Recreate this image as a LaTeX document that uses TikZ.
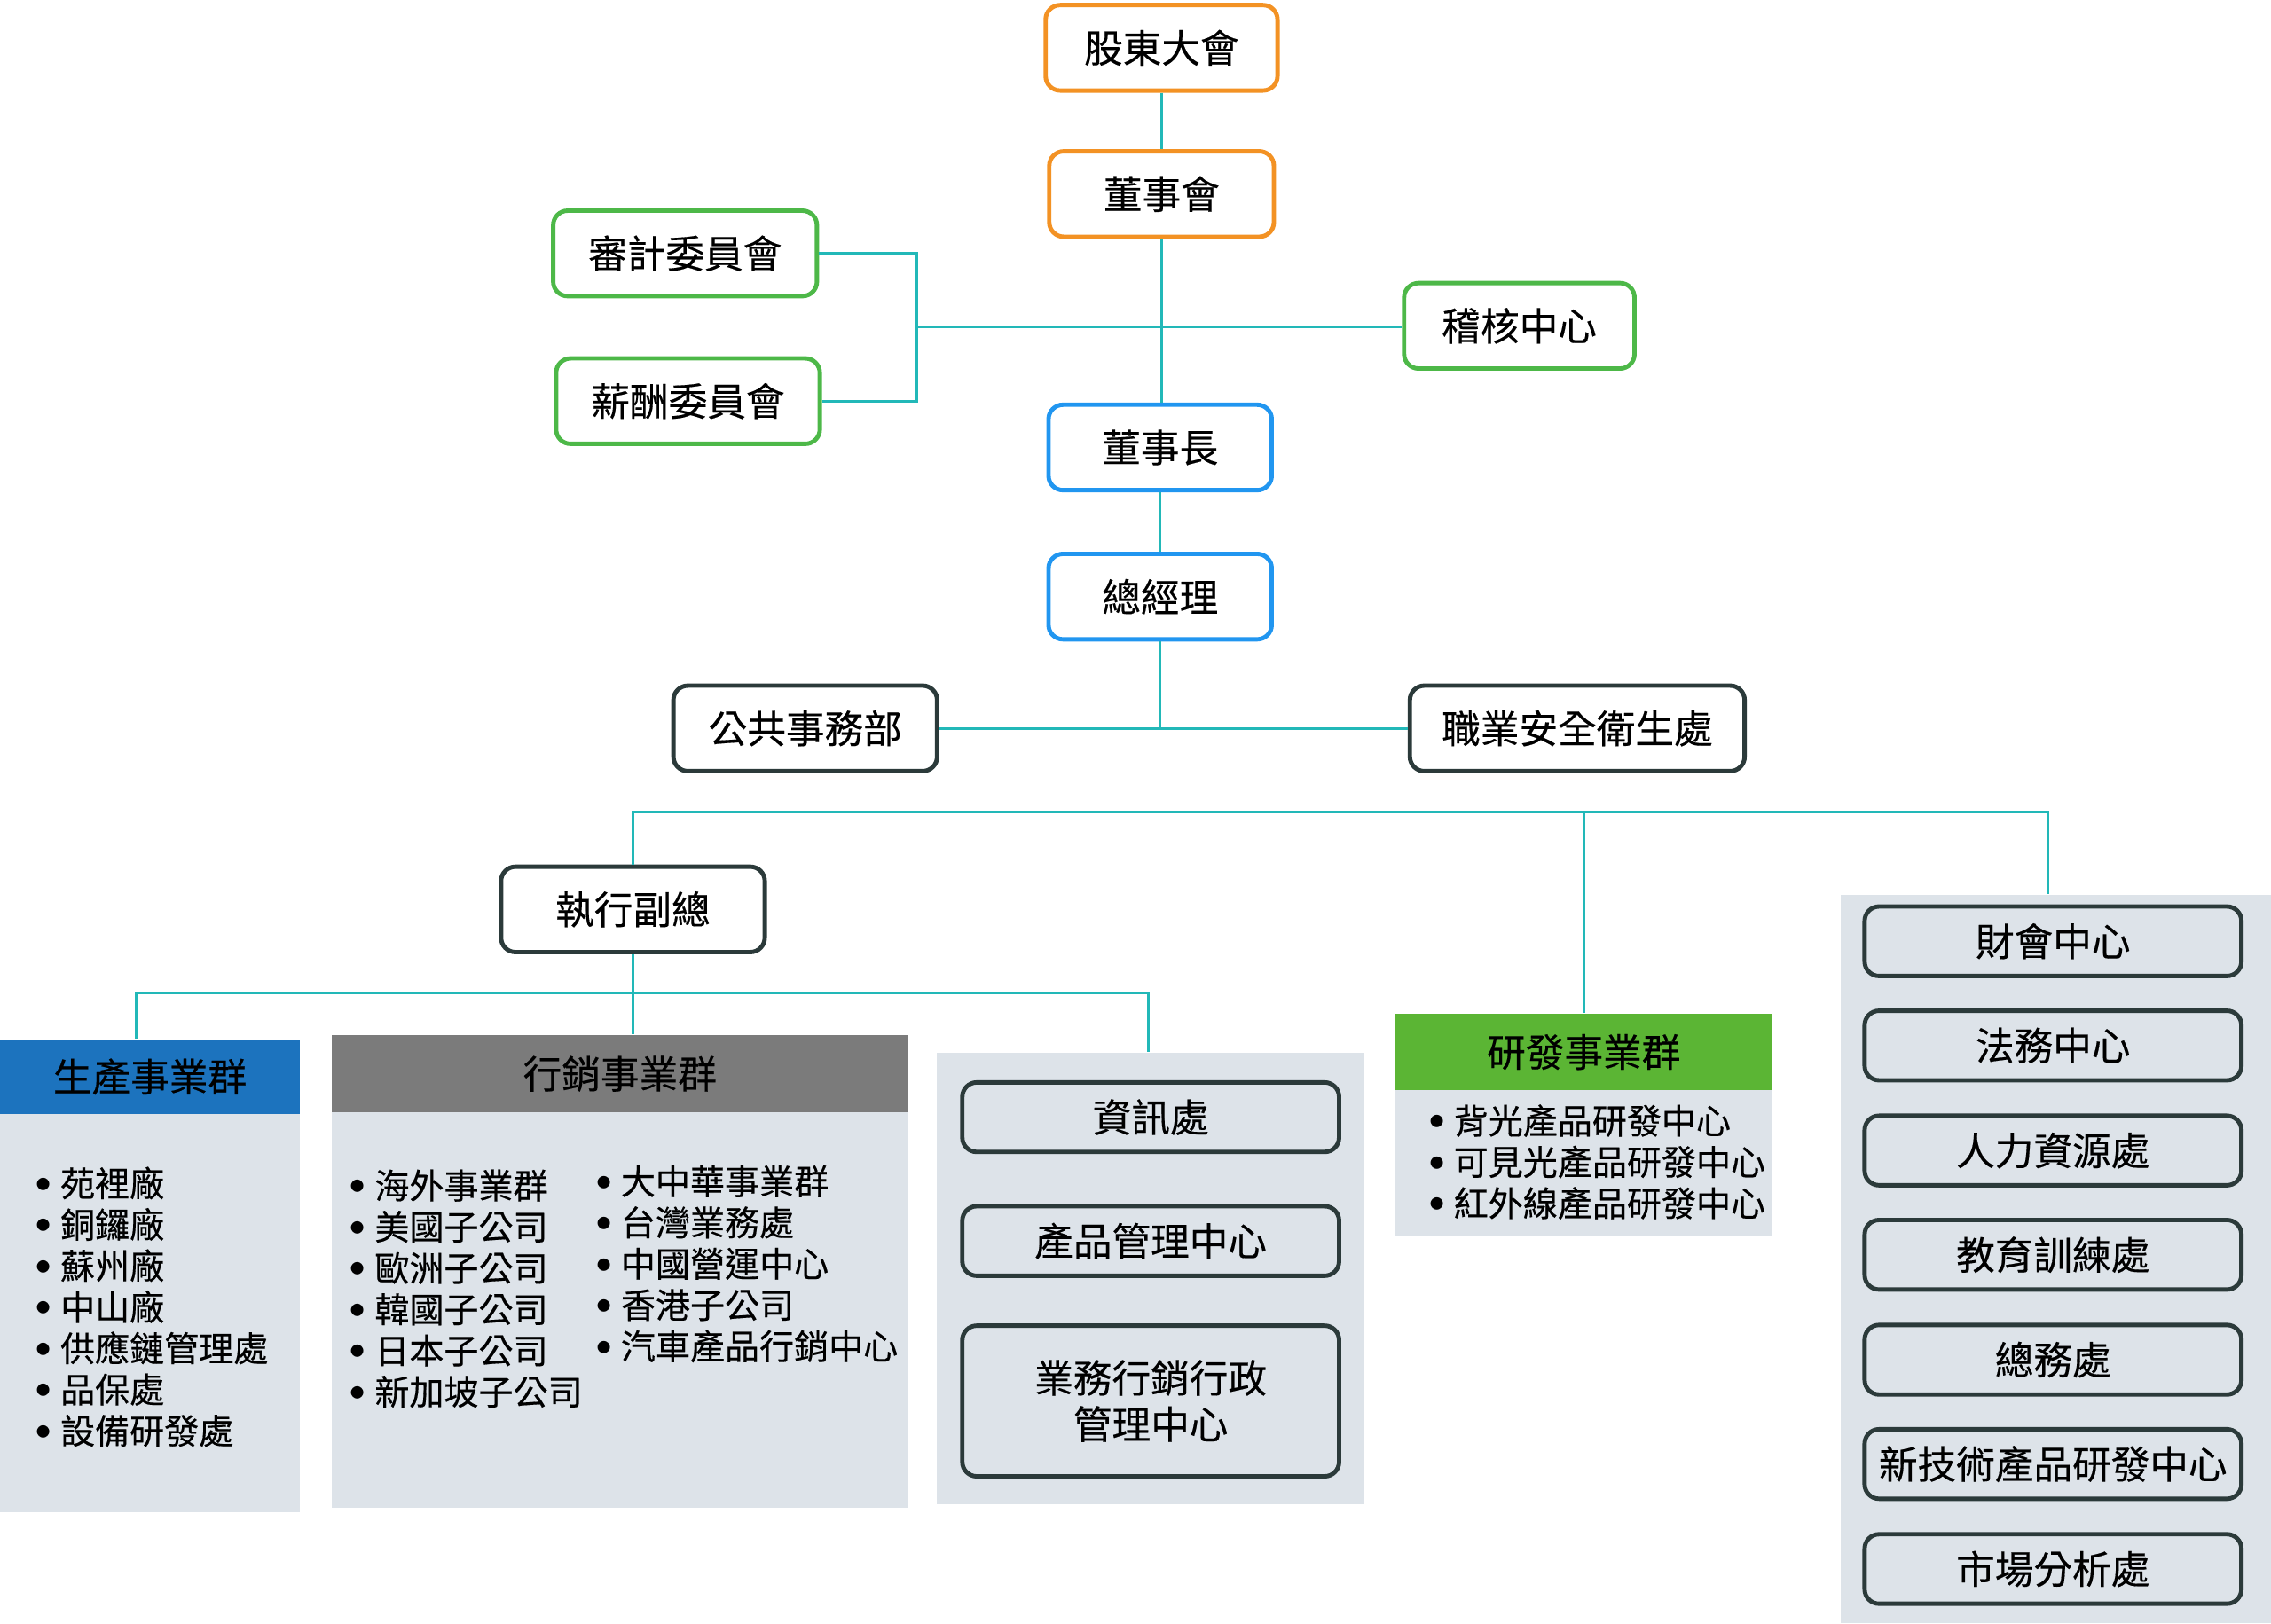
\documentclass[tikz,border=0pt]{standalone}
\usepackage{fontspec}
\setmainfont{Noto Sans CJK TC}[FakeBold=0.35]
\definecolor{linkteal}{HTML}{22B8B8}
\definecolor{orangeb}{HTML}{F39224}
\definecolor{greenb}{HTML}{4DB848}
\definecolor{blueb}{HTML}{2196F0}
\definecolor{darkb}{HTML}{2B3A3A}
\definecolor{prodblue}{HTML}{1C73BE}
\definecolor{mktgray}{HTML}{7B7B7B}
\definecolor{rdgreen}{HTML}{5BB534}
\definecolor{panelgray}{HTML}{DDE3E9}
\newcommand{\dotitem}{\makebox[0.17cm][l]{\hspace{-0.01cm}\raisebox{0.17em}{$\scriptstyle\bullet$}}}

\begin{document}
\begin{tikzpicture}[x=0.01cm,y=-0.01cm,
	box/.style={draw,line width=0.85pt,rounded corners=0.1cm,fill=white,
		minimum height=0.59cm,inner sep=0pt,align=center,
		font=\fontsize{7.6}{9.1}\selectfont},
	sub/.style={box,draw=darkb,fill=panelgray,minimum width=2.6cm,minimum height=0.48cm},
	head/.style={inner sep=0pt,minimum height=0.52cm,font=\fontsize{7.6}{9}\selectfont},
	panel/.style={fill=panelgray,inner sep=0pt},
	list/.style={anchor=north west,align=left,inner sep=0pt,font=\fontsize{6.8}{8.1}\selectfont},
	link/.style={draw=linkteal,line width=0.5pt}]
	\useasboundingbox (0,0) rectangle (1568,1121);
	% top of the chart
	\node[box,draw=orangeb,minimum width=1.60cm] (agm) at (802,33) {股東大會};
	\node[box,draw=orangeb,minimum width=1.55cm] (board) at (802,134) {董事會};
	\node[box,draw=greenb,minimum width=1.82cm] (audit) at (473,175) {審計委員會};
	\node[box,draw=greenb,minimum width=1.82cm] (remun) at (475,277) {薪酬委員會};
	\node[box,draw=greenb,minimum width=1.59cm] (intaudit) at (1049,225) {稽核中心};
	\node[box,draw=blueb,minimum width=1.54cm] (chair) at (801,309) {董事長};
	\node[box,draw=blueb,minimum width=1.54cm] (pres) at (801,412) {總經理};
	\node[box,draw=darkb,minimum width=1.82cm] (pub) at (556,503) {公共事務部};
	\node[box,draw=darkb,minimum width=2.31cm] (osh) at (1089,503) {職業安全衛生處};
	\node[box,draw=darkb,minimum width=1.82cm] (evp) at (437,628) {執行副總};
	% business groups
	\node[panel,minimum width=2.07cm,minimum height=2.75cm] (prodbody) at (103.5,906.5) {};
	\node[head,fill=prodblue,minimum width=2.07cm,minimum height=0.51cm] (prod) at (103.5,743.5) {生產事業群};
	\node[list] (prodlist) at (24,805) {\dotitem 苑裡廠\\ \dotitem 銅鑼廠\\ \dotitem 蘇州廠\\
		\dotitem 中山廠\\ \dotitem 供應鏈管理處\\ \dotitem 品保處\\ \dotitem 設備研發處};
	\node[panel,minimum width=3.98cm,minimum height=2.73cm] (mktbody) at (428,904.5) {};
	\node[head,fill=mktgray,minimum width=3.98cm,minimum height=0.53cm] (mkt) at (428,741.5) {行銷事業群};
	\node[list] (mktlistA) at (241,807) {\dotitem 海外事業群\\ \dotitem 美國子公司\\ \dotitem 歐洲子公司\\
		\dotitem 韓國子公司\\ \dotitem 日本子公司\\ \dotitem 新加坡子公司};
	\node[list] (mktlistB) at (411,804) {\dotitem 大中華事業群\\ \dotitem 台灣業務處\\ \dotitem 中國營運中心\\
		\dotitem 香港子公司\\ \dotitem 汽車產品行銷中心};
	\node[panel,minimum width=2.95cm,minimum height=3.12cm] (infopanel) at (794.5,883) {};
	\node[sub] (it) at (794.5,771.5) {資訊處};
	\node[sub] (pm) at (794.5,857) {產品管理中心};
	\node[sub,minimum height=1.04cm] (sadmin) at (794.5,967.5) {業務行銷行政\\管理中心};
	\node[panel,minimum width=2.61cm,minimum height=1.00cm] (rdbody) at (1093.5,803) {};
	\node[head,fill=rdgreen,minimum width=2.61cm,minimum height=0.53cm] (rd) at (1093.5,726.5) {研發事業群};
	\node[list] (rdlist) at (986,762) {\dotitem 背光產品研發中心\\ \dotitem 可見光產品研發中心\\ \dotitem 紅外線產品研發中心};
	% staff units
	\node[panel,minimum width=2.97cm,minimum height=5.03cm] (rpanel) at (1419.5,869.5) {};
	\node[sub] (fin) at (1417.5,650) {財會中心};
	\node[sub] (legal) at (1417.5,722) {法務中心};
	\node[sub] (hr) at (1417.5,794.5) {人力資源處};
	\node[sub] (edu) at (1417.5,866.5) {教育訓練處};
	\node[sub] (ga) at (1417.5,939) {總務處};
	\node[sub] (newtech) at (1417.5,1011) {新技術產品研發中心};
	\node[sub] (market) at (1417.5,1083.5) {市場分析處};
	% connectors
	\coordinate (cmt) at (633,226);
	\coordinate (busr) at (1414,561);
	\coordinate (bus2l) at (94,686);
	\coordinate (bus2r) at (793,686);
	\draw[link] (agm) -- (agm |- board.north);
	\draw[link] (board) -- (board |- chair.north);
	\draw[link] (chair) -- (pres);
	\draw[link] (audit.east) -| (cmt) |- (remun.east);
	\draw[link] (cmt) -- (cmt -| intaudit.west);
	\draw[link] (pres) -- (pres |- pub.east);
	\draw[link] (pub) -- (osh);
	\draw[link] (evp.north) |- (busr) -- (busr |- rpanel.north);
	\draw[link] (rd.north) -- (rd.north |- busr);
	\draw[link] (bus2l |- prod.north) -- (bus2l) -- (bus2r) -- (bus2r |- infopanel.north);
	\draw[link] (evp.south) -- (evp.south |- mkt.north);
\end{tikzpicture}
\end{document}
